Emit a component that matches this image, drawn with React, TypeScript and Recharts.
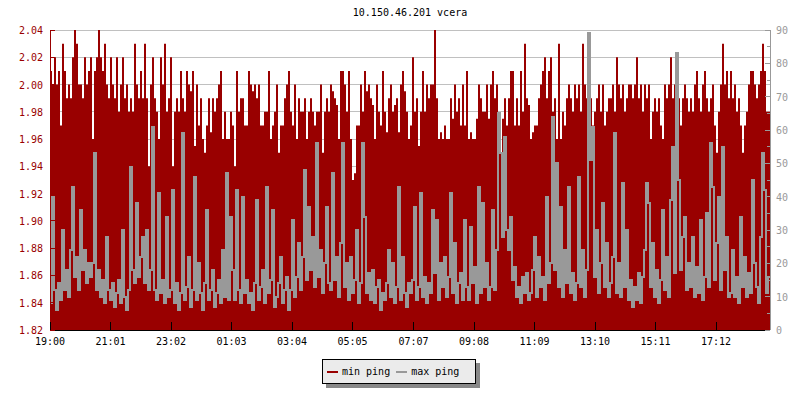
import React from "react";
import { ComposedChart, Area, Line, XAxis, YAxis, CartesianGrid } from "recharts";

const FONT = '"DejaVu Sans Mono", monospace';
const RED = "#990000";
const GREY = "#999999";

const TITLE = "10.150.46.201 vcera";
const START_TIME = "19:00";
const STEP_MINUTES = 4; // one sample every 4 minutes, 24h total
const TICK_LABELS = ["19:00", "21:01", "23:02", "01:03", "03:04", "05:05", "07:07", "09:08", "11:09", "13:10", "15:11", "17:12"];
const LEFT_TICKS = [1.82, 1.84, 1.86, 1.88, 1.9, 1.92, 1.94, 1.96, 1.98, 2.0, 2.02, 2.04];
const RIGHT_TICKS = [0, 5, 10, 15, 20, 25, 30, 35, 40, 45, 50, 55, 60, 65, 70, 75, 80, 85, 90];

// min ping (ms), left axis
const MIN_PING = [
  2.01, 2.0, 2.02, 2.0, 2.01, 1.97, 2.03, 2.01, 1.99, 2.0, 1.99, 2.02, 2.04, 2.03, 2.0, 2.0, 1.99, 2.02, 2.0, 2.01,
  2.02, 1.96, 2.01, 2.02, 2.04, 2.02, 2.01, 2.03, 2.0, 1.99, 2.02, 2.0, 1.99, 2.02, 1.98, 2.0, 2.02, 1.99, 2.0, 1.98,
  1.99, 1.98, 2.03, 2.0, 1.99, 2.01, 1.99, 2.03, 1.99, 1.94, 2.0, 2.02, 1.99, 1.98, 1.96, 2.02, 2.0, 2.03, 1.98, 1.99,
  2.02, 1.94, 1.98, 1.99, 1.98, 2.01, 1.99, 1.98, 2.01, 2.0, 1.995, 2.01, 1.955, 2.0, 1.97, 1.99, 1.96, 1.95, 1.97, 1.99,
  1.965, 1.99, 1.98, 1.99, 2.0, 2.01, 1.96, 1.98, 1.96, 1.96, 1.98, 1.97, 1.94, 2.01, 1.98, 1.99, 1.99, 1.97, 1.97, 2.01,
  2.0, 1.995, 2.0, 1.99, 2.0, 1.97, 1.97, 1.98, 1.98, 2.01, 1.96, 1.97, 1.98, 2.0, 1.95, 1.97, 1.97, 1.99, 2.0, 2.01,
  1.98, 1.97, 2.0, 1.96, 1.99, 1.98, 1.98, 1.99, 1.96, 1.98, 1.99, 1.98, 1.97, 1.98, 1.98, 2.0, 1.95, 1.98, 1.99, 1.98,
  2.0, 1.995, 1.99, 1.985, 1.96, 2.01, 2.01, 2.0, 1.98, 2.01, 1.96, 1.93, 1.935, 1.97, 1.97, 2.0, 1.98, 2.01, 1.995, 2.0,
  1.99, 1.985, 1.96, 2.0, 1.98, 1.97, 2.01, 1.98, 1.965, 1.99, 2.0, 1.98, 1.985, 1.99, 1.965, 2.0, 2.01, 1.995, 1.98, 1.96,
  1.97, 2.02, 1.98, 1.99, 1.955, 1.98, 2.01, 1.98, 2.0, 1.99, 2.0, 2.0, 2.04, 1.99, 1.96, 1.965, 1.96, 1.97, 1.96, 1.96,
  1.99, 1.975, 2.0, 1.98, 1.99, 1.97, 2.0, 1.97, 2.01, 1.96, 1.965, 1.96, 1.96, 1.975, 2.0, 1.99, 1.98, 1.98, 2.0, 1.975,
  2.0, 2.01, 1.99, 2.0, 1.97, 1.95, 1.975, 1.99, 1.97, 1.99, 2.01, 2.01, 1.97, 1.99, 1.97, 2.01, 1.98, 2.03, 1.99, 1.985,
  1.96, 1.965, 1.97, 1.97, 1.99, 2.0, 2.01, 2.02, 1.99, 2.01, 2.02, 1.98, 1.99, 1.96, 2.03, 1.96, 1.98, 1.97, 1.99, 2.0,
  1.99, 1.98, 2.0, 1.99, 2.0, 1.98, 2.03, 2.0, 1.99, 2.0, 1.99, 1.97, 1.98, 1.99, 2.0, 1.98, 2.0, 1.97, 1.98, 1.99,
  1.99, 2.0, 1.98, 2.02, 2.0, 1.99, 2.0, 1.98, 1.99, 2.0, 2.0, 1.99, 2.0, 2.02, 1.99, 2.0, 1.98, 2.0, 1.99, 2.0,
  1.96, 1.98, 1.99, 1.98, 1.99, 1.97, 1.96, 2.0, 1.99, 2.0, 2.02, 1.99, 2.0, 2.02, 1.99, 1.97, 1.99, 2.0, 1.99, 1.98,
  1.99, 1.98, 2.0, 2.01, 1.99, 1.98, 2.0, 2.01, 1.99, 1.98, 1.99, 2.0, 1.97, 1.95, 1.98, 2.0, 2.03, 2.0, 2.01, 1.99,
  2.01, 1.99, 2.0, 1.98, 1.99, 1.97, 1.95, 1.97, 1.98, 2.0, 2.01, 2.01, 2.0, 1.99, 2.0, 2.01, 2.03, 2.01, 1.98, 1.98,
];

// max ping (ms), right axis
const MAX_PING = [
  8, 40, 12, 6, 14, 9, 30, 12, 18, 10, 24, 43, 16, 22, 12, 36, 18, 24, 14, 20,
  16, 20, 53, 12, 18, 10, 15, 8, 28, 12, 9, 14, 7, 11, 15, 8, 30, 10, 6, 12,
  49, 18, 14, 38, 16, 22, 28, 14, 30, 12, 18, 61, 12, 9, 41, 11, 15, 8, 34, 10,
  12, 42, 8, 14, 6, 11, 59, 9, 13, 22, 7, 12, 46, 9, 20, 11, 6, 14, 36, 9,
  12, 18, 7, 11, 15, 8, 24, 10, 47, 9, 34, 18, 9, 42, 12, 8, 40, 11, 15, 8,
  11, 6, 14, 39, 9, 13, 18, 8, 43, 11, 15, 36, 7, 10, 14, 22, 8, 12, 16, 6,
  12, 33, 10, 16, 26, 12, 22, 48, 15, 37, 18, 28, 13, 56, 16, 24, 11, 20, 37, 14,
  12, 47, 15, 22, 10, 26, 56, 13, 20, 9, 22, 11, 15, 30, 8, 14, 56, 34, 11, 17,
  9, 18, 8, 13, 15, 6, 11, 9, 14, 24, 10, 20, 8, 13, 43, 9, 22, 11, 7, 14,
  11, 15, 37, 9, 13, 41, 10, 16, 8, 14, 11, 36, 17, 33, 9, 20, 13, 22, 10, 16,
  41, 11, 26, 8, 14, 17, 9, 33, 13, 9, 31, 14, 19, 8, 43, 11, 38, 13, 20, 9,
  13, 36, 12, 24, 65, 53, 28, 58, 30, 24, 34, 15, 19, 10, 13, 8, 16, 11, 17, 9,
  11, 18, 28, 10, 22, 13, 16, 9, 40, 14, 20, 64, 18, 50, 13, 37, 10, 24, 14, 43,
  11, 17, 9, 14, 46, 13, 24, 10, 18, 89, 51, 61, 16, 30, 11, 20, 38, 13, 26, 10,
  14, 22, 59, 11, 20, 10, 44, 13, 30, 9, 15, 7, 13, 9, 17, 8, 16, 24, 44, 38,
  13, 26, 10, 18, 8, 15, 36, 12, 22, 10, 39, 55, 17, 83, 45, 18, 28, 34, 12, 20,
  13, 28, 10, 19, 11, 33, 9, 16, 35, 13, 56, 43, 15, 26, 40, 12, 55, 18, 28, 10,
  11, 24, 10, 16, 8, 34, 13, 22, 10, 17, 11, 45, 20, 13, 8, 28, 53, 42, 11, 16,
];

const toMinutes = (hhmm: string) => {
  const [h, m] = hhmm.split(":").map(Number);
  return h * 60 + m;
};
const START = toMinutes(START_TIME);
const TICK_POS = TICK_LABELS.map((l) => (toMinutes(l) - START + 1440) % 1440);
const LABEL_AT = new Map(TICK_POS.map((p, i) => [p, TICK_LABELS[i]]));
const END = MIN_PING.length * STEP_MINUTES;

const data = MIN_PING.map((v, i) => ({ t: i * STEP_MINUTES, min: v, max: MAX_PING[i] }));
// close the last step so it reaches the right edge
data.push({ t: END, min: MIN_PING[MIN_PING.length - 1], max: MAX_PING[MAX_PING.length - 1] });

function LeftTick({ x, y, payload }: any) {
  return (
    <g>
      <line x1={x} y1={y} x2={x + 5} y2={y} stroke={RED} shapeRendering="crispEdges" />
      <text x={x - 7} y={y} dy={4} textAnchor="end" fill={RED} fontSize={10} fontFamily={FONT}>
        {Number(payload.value).toFixed(2)}
      </text>
    </g>
  );
}

function RightTick({ x, y, payload }: any) {
  const major = payload.value % 10 === 0;
  return (
    <g>
      <line x1={x - (major ? 5 : 3)} y1={y} x2={x} y2={y} stroke={GREY} shapeRendering="crispEdges" />
      {major && (
        <text x={x + 6} y={y} dy={4} textAnchor="start" fill={GREY} fontSize={10} fontFamily={FONT}>
          {payload.value}
        </text>
      )}
    </g>
  );
}

function BottomTick({ x, y, payload }: any) {
  return (
    <g>
      <line x1={x} y1={y - 8} x2={x} y2={y} stroke="#000" shapeRendering="crispEdges" />
      <text x={x} y={y + 15} textAnchor="middle" fill="#000" fontSize={10} fontFamily={FONT}>
        {LABEL_AT.get(payload.value)}
      </text>
    </g>
  );
}

function LegendBox() {
  const swatch = (c: string) => (
    <span style={{ display: "inline-block", width: 11, height: 2, background: c, marginRight: 4 }} />
  );
  return (
    <div
      style={{
        position: "absolute",
        left: 322,
        top: 359,
        width: 154,
        height: 25,
        boxSizing: "border-box",
        border: "1px solid #000",
        background: "#ebebeb",
        boxShadow: "4px 4px 0 #888",
        display: "flex",
        alignItems: "center",
        paddingLeft: 4,
        fontFamily: FONT,
        fontSize: 10,
        color: "#000",
        whiteSpace: "pre",
      }}
    >
      {swatch(RED)}
      <span>min ping </span>
      {swatch(GREY)}
      <span>max ping</span>
    </div>
  );
}

export default function App() {
  return (
    <div style={{ position: "absolute", left: 0, top: 0, width: 800, height: 400, background: "#fff", fontFamily: FONT }}>
      <div
        style={{
          position: "absolute",
          left: 50,
          width: 720,
          top: 7,
          textAlign: "center",
          fontSize: 10,
          lineHeight: "12px",
          color: "#000",
        }}
      >
        {TITLE}
      </div>
      <ComposedChart width={800} height={400} data={data} margin={{ top: 30, right: 0, left: 0, bottom: 0 }}>
        <CartesianGrid yAxisId="left" vertical={false} stroke="#c0c0c0" shapeRendering="crispEdges" />
        <XAxis
          dataKey="t"
          type="number"
          domain={[0, END]}
          ticks={TICK_POS}
          interval={0}
          height={70}
          tickSize={0}
          tickMargin={0}
          tickLine={false}
          axisLine={{ stroke: "#000", shapeRendering: "crispEdges" }}
          tick={<BottomTick />}
        />
        <YAxis
          yAxisId="left"
          orientation="left"
          width={50}
          domain={[1.82, 2.04]}
          allowDataOverflow
          ticks={LEFT_TICKS}
          interval={0}
          tickSize={0}
          tickMargin={0}
          tickLine={false}
          axisLine={{ stroke: RED, shapeRendering: "crispEdges" }}
          tick={<LeftTick />}
        />
        <YAxis
          yAxisId="right"
          orientation="right"
          width={30}
          domain={[0, 90]}
          allowDataOverflow
          ticks={RIGHT_TICKS}
          interval={0}
          tickSize={0}
          tickMargin={0}
          tickLine={false}
          axisLine={{ stroke: GREY, shapeRendering: "crispEdges" }}
          tick={<RightTick />}
        />
        <Area
          yAxisId="left"
          dataKey="min"
          type="stepAfter"
          baseValue="dataMin"
          fill={RED}
          fillOpacity={1}
          stroke="none"
          isAnimationActive={false}
          dot={false}
          activeDot={false}
        />
        <Line
          yAxisId="right"
          dataKey="max"
          type="stepAfter"
          stroke={GREY}
          strokeWidth={2}
          dot={false}
          activeDot={false}
          isAnimationActive={false}
          shapeRendering="crispEdges"
        />
      </ComposedChart>
      <LegendBox />
    </div>
  );
}
